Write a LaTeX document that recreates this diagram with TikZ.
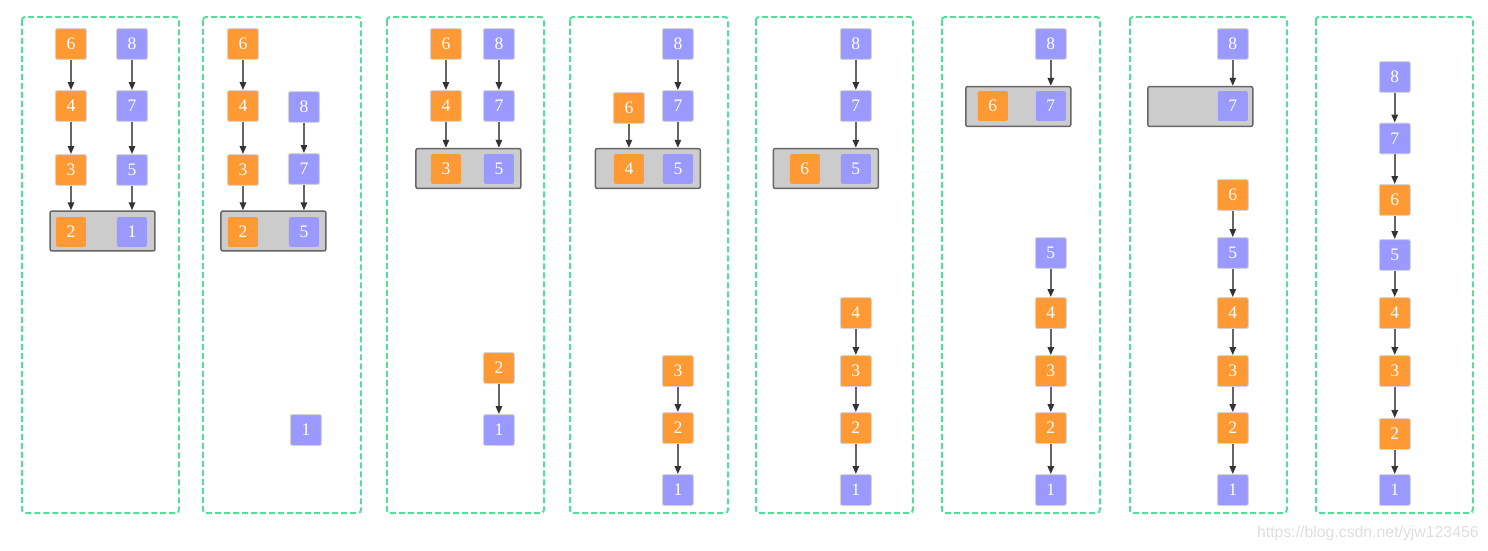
\documentclass[tikz,border=0pt]{standalone}
\usepackage{fontspec}
\setmainfont{Liberation Serif}
\newfontfamily\wmfont{Liberation Sans}
\usetikzlibrary{arrows.meta}
\definecolor{bOrange}{HTML}{FF9933}
\definecolor{bBlue}{HTML}{9999FF}
\definecolor{bGreen}{HTML}{55DD99}
\definecolor{bEdge}{HTML}{D4D4D4}
\definecolor{bTray}{HTML}{CCCCCC}
\definecolor{bLine}{HTML}{666666}
\definecolor{bHead}{HTML}{333333}
\tikzset{box/.style={draw=bEdge, line width=0.02cm, rounded corners=0.04cm, minimum size=0.62cm, inner sep=0pt, text=white, font=\fontsize{10}{12}\selectfont},
 ob/.style={box, fill=bOrange}, pb/.style={box, fill=bBlue},
 flat/.style={draw=none, minimum size=0.6cm},
 tray/.style={draw=bLine, fill=bTray, line width=0.03cm, rounded corners=0.04cm, minimum width=2.1cm, minimum height=0.8cm, inner sep=0pt},
 frame/.style={draw=bGreen, line width=0.04cm, dash pattern=on 0.12cm off 0.06cm, rounded corners=0.06cm},
 link/.style={draw=bLine, line width=0.03cm, -{Triangle[length=0.16cm,width=0.13cm,color=bHead]}}}
\begin{document}
\begin{tikzpicture}[x=0.02cm,y=-0.02cm]
   \useasboundingbox (0,0) rectangle (1488,551);
   \begin{scope}[xshift=0.44cm]
    \draw[frame] (0,17) rectangle (157,513);
    \node[tray] (t) at (80.5,231) {};
    \node[ob] (n6) at (49,44) {6};
    \node[pb] (n8) at (110,44) {8};
    \node[ob] (n4) at (49,106) {4};
    \node[pb] (n7) at (110,106) {7};
    \node[ob] (n3) at (49,170) {3};
    \node[pb] (n5) at (110,170) {5};
    \node[ob,flat] (n2) at (49,232) {2};
    \node[pb,flat] (n1) at (110,232) {1};
    \draw[link] (n6) -- (n4);
    \draw[link] (n8) -- (n7);
    \draw[link] (n4) -- (n3);
    \draw[link] (n7) -- (n5);
    \draw[link] (n3) -- (n3 |- t.north);
    \draw[link] (n5) -- (n5 |- t.north);
   \end{scope}
   \begin{scope}[xshift=4.06cm]
    \draw[frame] (0,17) rectangle (158,513);
    \node[tray] (t) at (70.5,231) {};
    \node[ob] (n6) at (40,44) {6};
    \node[ob] (n4) at (40,106) {4};
    \node[ob] (n3) at (40,170) {3};
    \node[pb] (n8) at (101,107) {8};
    \node[pb] (n7) at (101,169) {7};
    \node[ob,flat] (n2) at (40,232) {2};
    \node[pb,flat] (n5) at (101,232) {5};
    \node[pb] (n1) at (103,430) {1};
    \draw[link] (n6) -- (n4);
    \draw[link] (n4) -- (n3);
    \draw[link] (n8) -- (n7);
    \draw[link] (n3) -- (n3 |- t.north);
    \draw[link] (n7) -- (n7 |- t.north);
   \end{scope}
   \begin{scope}[xshift=7.74cm]
    \draw[frame] (0,17) rectangle (157,513);
    \node[tray] (t) at (81.5,168.5) {};
    \node[ob] (n6) at (59,44) {6};
    \node[pb] (n8) at (112,44) {8};
    \node[ob] (n4) at (59,106) {4};
    \node[pb] (n7) at (112,106) {7};
    \node[ob,flat] (n3) at (59,169) {3};
    \node[pb,flat] (n5) at (112,169) {5};
    \node[ob] (n2) at (112,368) {2};
    \node[pb] (n1) at (112,430) {1};
    \draw[link] (n6) -- (n4);
    \draw[link] (n8) -- (n7);
    \draw[link] (n4) -- (n4 |- t.north);
    \draw[link] (n7) -- (n7 |- t.north);
    \draw[link] (n2) -- (n1);
   \end{scope}
   \begin{scope}[xshift=11.40cm]
    \draw[frame] (0,17) rectangle (158,513);
    \node[tray] (t) at (78,168.5) {};
    \node[pb] (n8) at (108,44) {8};
    \node[pb] (n7) at (108,106) {7};
    \node[ob] (n6) at (59,108) {6};
    \node[ob,flat] (n4) at (59,169) {4};
    \node[pb,flat] (n5) at (108,169) {5};
    \node[ob] (n3) at (108,371) {3};
    \node[ob] (n2) at (108,428) {2};
    \node[pb] (n1) at (108,490) {1};
    \draw[link] (n8) -- (n7);
    \draw[link] (n6) -- (n6 |- t.north);
    \draw[link] (n7) -- (n7 |- t.north);
    \draw[link] (n3) -- (n2);
    \draw[link] (n2) -- (n1);
   \end{scope}
   \begin{scope}[xshift=15.12cm]
    \draw[frame] (0,17) rectangle (157,513);
    \node[tray] (t) at (70,168.5) {};
    \node[pb] (n8) at (100,44) {8};
    \node[pb] (n7) at (100,106) {7};
    \node[ob,flat] (n6) at (49,169) {6};
    \node[pb,flat] (n5) at (100,169) {5};
    \node[ob] (n4) at (100,313) {4};
    \node[ob] (n3) at (100,371) {3};
    \node[ob] (n2) at (100,428) {2};
    \node[pb] (n1) at (100,490) {1};
    \draw[link] (n8) -- (n7);
    \draw[link] (n7) -- (n7 |- t.north);
    \draw[link] (n4) -- (n3);
    \draw[link] (n3) -- (n2);
    \draw[link] (n2) -- (n1);
   \end{scope}
   \begin{scope}[xshift=18.84cm]
    \draw[frame] (0,17) rectangle (158,513);
    \node[tray] (t) at (76.5,106.5) {};
    \node[pb] (n8) at (109,44) {8};
    \node[ob,flat] (n6) at (51,106) {6};
    \node[pb,flat] (n7) at (109,106) {7};
    \node[pb] (n5) at (109,253) {5};
    \node[ob] (n4) at (109,313) {4};
    \node[ob] (n3) at (109,371) {3};
    \node[ob] (n2) at (109,428) {2};
    \node[pb] (n1) at (109,490) {1};
    \draw[link] (n8) -- (n8 |- t.north);
    \draw[link] (n5) -- (n4);
    \draw[link] (n4) -- (n3);
    \draw[link] (n3) -- (n2);
    \draw[link] (n2) -- (n1);
   \end{scope}
   \begin{scope}[xshift=22.60cm]
    \draw[frame] (0,17) rectangle (157,513);
    \node[tray] (t) at (70.5,106.5) {};
    \node[pb] (n8) at (103,44) {8};
    \node[pb,flat] (n7) at (103,106) {7};
    \node[ob] (n6) at (103,195) {6};
    \node[pb] (n5) at (103,253) {5};
    \node[ob] (n4) at (103,313) {4};
    \node[ob] (n3) at (103,371) {3};
    \node[ob] (n2) at (103,428) {2};
    \node[pb] (n1) at (103,490) {1};
    \draw[link] (n8) -- (n8 |- t.north);
    \draw[link] (n6) -- (n5);
    \draw[link] (n5) -- (n4);
    \draw[link] (n4) -- (n3);
    \draw[link] (n3) -- (n2);
    \draw[link] (n2) -- (n1);
   \end{scope}
   \begin{scope}[xshift=26.32cm]
    \draw[frame] (0,17) rectangle (157,513);
    \node[pb] (n8) at (79,77) {8};
    \node[pb] (n7) at (79,138.5) {7};
    \node[ob] (n6) at (79,200) {6};
    \node[pb] (n5) at (79,255) {5};
    \node[ob] (n4) at (79,313) {4};
    \node[ob] (n3) at (79,371) {3};
    \node[ob] (n2) at (79,434) {2};
    \node[pb] (n1) at (79,490) {1};
    \draw[link] (n8) -- (n7);
    \draw[link] (n7) -- (n6);
    \draw[link] (n6) -- (n5);
    \draw[link] (n5) -- (n4);
    \draw[link] (n4) -- (n3);
    \draw[link] (n3) -- (n2);
    \draw[link] (n2) -- (n1);
   \end{scope}
   \node[anchor=east, inner sep=0pt, text=black!13, font=\wmfont\fontsize{9}{11}\selectfont] (wm) at (1479,533) {https://blog.csdn.net/yjw123456};
  \end{tikzpicture}
\end{document}
